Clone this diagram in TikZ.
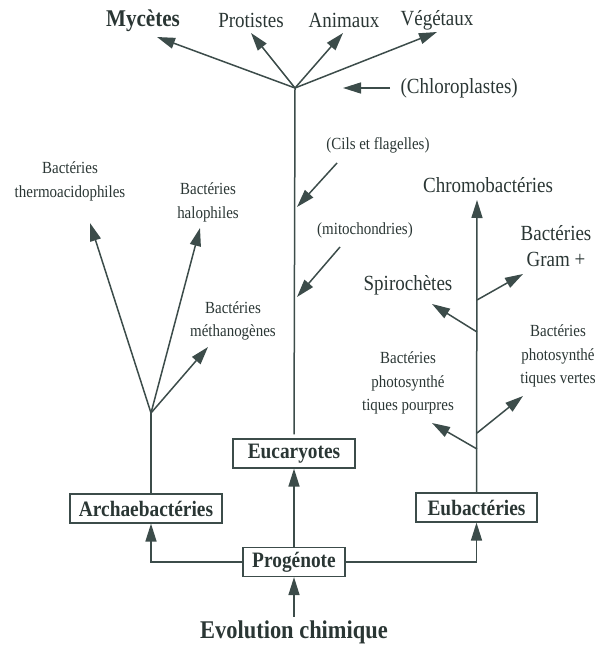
\documentclass[tikz,border=0pt]{standalone}
\usepackage{fontspec}
\setmainfont{Liberation Serif}[FakeStretch=0.88]
\usepackage{tikz}
\usetikzlibrary{arrows.meta}
\definecolor{ink}{RGB}{42,54,52}
\definecolor{trait}{RGB}{60,76,74}

\tikzset{
	ligne/.style={draw=trait, line width=1.5pt},
	arr/.style={ligne, -{Triangle[length=18pt,width=11pt]}},
	boite/.style={draw=trait, line width=1.2pt, inner xsep=2pt, minimum height=29pt, text=ink, font=\fontsize{22}{24}\selectfont\bfseries},
	grand/.style={text=ink, align=center, font=\fontsize{21.6}{26}\selectfont},
	petit/.style={text=ink, align=center, font=\fontsize{17}{23.5}\selectfont},
}

\begin{document}
\begin{tikzpicture}[x=1pt, y=-1pt]
	\useasboundingbox (0,0) rectangle (600,647);

	\node[boite, minimum width=152pt] (arch) at (146,508.5) {Archaebactéries};	% boxes
	\node[boite, minimum width=122pt] (euc) at (294,453.5) {Eucaryotes};
	\node[boite, minimum width=102pt] (prog) at (294,562) {Progénote};
	\node[boite, minimum width=121pt] (eub) at (476.5,507.5) {Eubactéries};
	\node[text=ink, font=\fontsize{25.5}{28}\selectfont\bfseries] (evo) at (294,632) {Evolution chimique};

	\draw[arr] (evo) -- (prog);	% trunk
	\draw[arr] (prog) -- (euc);
	\draw[arr] (prog.west) -| ([xshift=5pt]arch.south);
	\draw[arr] (prog.east) -| (eub.south);

	\node[text=ink, font=\fontsize{24}{26}\selectfont\bfseries] (myc) at (143,21) {Mycètes};	% Eucaryotes
	\node[grand] (prot) at (251,20) {Protistes};
	\node[grand] (anim) at (344,20) {Animaux};
	\node[grand] (veg) at (437,20) {Végétaux};
	\node[grand, anchor=west] (chlo) at (397,88) {(Chloroplastes)};
	\node[petit] (cils) at (378,145) {(Cils et flagelles)};
	\node[petit] (mito) at (365,230) {(mitochondries)};
	\coordinate (j1) at (295,88);
	\coordinate (tmyc) at (157,37);
	\coordinate (tprot) at (251,33);
	\coordinate (tanim) at (343,33);
	\coordinate (tveg) at (437,32);
	\coordinate (tchlo) at (343,88);
	\coordinate (scils) at (337,163);
	\coordinate (tcils) at (297,207);
	\coordinate (smito) at (340,247);
	\coordinate (tmito) at (297,297);
	\draw[ligne, shorten <=4pt] (euc.north) -- (j1);
	\draw[arr] (j1) -- (tmyc);
	\draw[arr] (j1) -- (tprot);
	\draw[arr] (j1) -- (tanim);
	\draw[arr] (j1) -- (tveg);
	\draw[arr, shorten <=7pt] (chlo.west) -- (tchlo);
	\draw[arr] (scils) -- (tcils);
	\draw[arr] (smito) -- (tmito);

	\node[petit] (thermo) at (70,181.5) {Bactéries\\thermoacidophiles};	% Archaebacteries
	\node[petit] (halo) at (208,202.5) {Bactéries\\halophiles};
	\node[petit] (metha) at (233,321) {Bactéries\\méthanogènes};
	\coordinate (j2) at (151,413);
	\draw[ligne] ([xshift=5pt]arch.north) -- (j2);
	\draw[arr] (j2) -- (90,223) coordinate (tthermo);
	\draw[arr] (j2) -- (200,228) coordinate (thalo);
	\draw[arr] (j2) -- (208,347) coordinate (tmetha);

	\node[grand] (chromo) at (488,185) {Chromobactéries};	% Eubacteries
	\node[grand] (gram) at (556,246) {Bactéries\\Gram +};
	\node[grand] (spiro) at (408,285) {Spirochètes};
	\node[petit] (vert) at (558,356) {Bactéries\\photosynthé\\tiques vertes};
	\node[petit] (pourp) at (408,383) {Bactéries\\photosynthé\\tiques pourpres};
	\coordinate (tchromo) at (477,200);
	\coordinate (b1) at (477,300);
	\coordinate (b2) at (477,332);
	\coordinate (b3) at (477,433);
	\coordinate (b4) at (477,449);
	\draw[arr] (eub.north) -- (tchromo);
	\draw[arr] (b1) -- (523,274) coordinate (tgram);
	\draw[arr] (b2) -- (432,304) coordinate (tspiro);
	\draw[arr] (b3) -- (523,396) coordinate (tvert);
	\draw[arr] (b4) -- (432,423) coordinate (tpourp);
\end{tikzpicture}
\end{document}
